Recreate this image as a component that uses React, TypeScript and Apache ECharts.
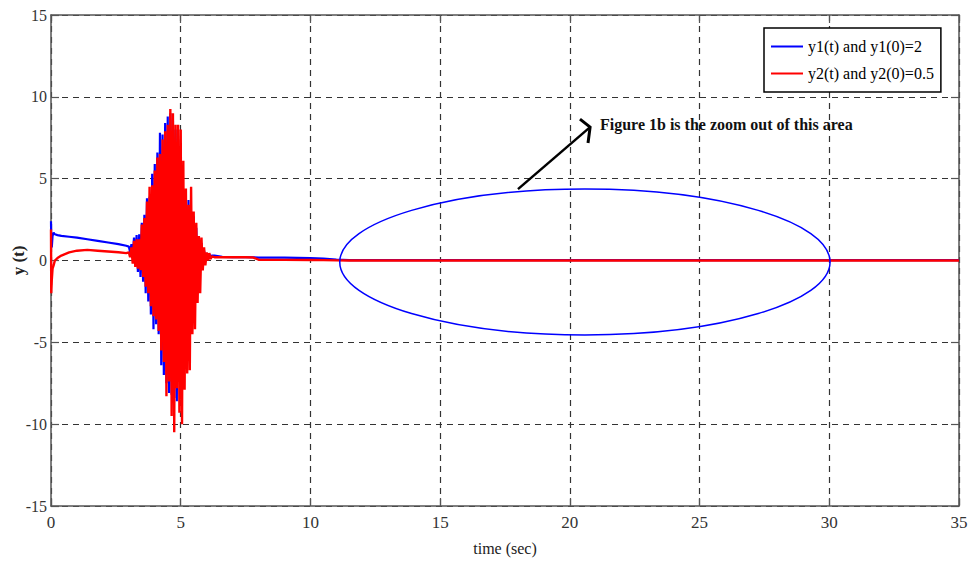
import React, { useEffect, useRef } from "react";
import * as echarts from "echarts";

// ---- data ----
const timeStart = [0, 0.01, 0.03, 0.06, 0.1, 0.15, 0.25, 0.4, 0.7, 1.0, 1.4, 1.8, 2.2, 2.6, 2.9];
const y1Start = [2.4, 1.0, 0.8, 1.5, 1.7, 1.6, 1.55, 1.5, 1.45, 1.4, 1.3, 1.2, 1.1, 1.0, 0.9];
const y2Start = [1.9, -2.0, -1.2, -0.5, -0.3, 0.0, 0.15, 0.3, 0.5, 0.6, 0.65, 0.6, 0.55, 0.5, 0.45];

const timeBurst = [
  3.0, 3.05, 3.1, 3.15, 3.2, 3.25, 3.3, 3.35, 3.4, 3.45, 3.5, 3.55, 3.6, 3.65, 3.7, 3.75,
  3.8, 3.85, 3.9, 3.95, 4.0, 4.05, 4.1, 4.15, 4.2, 4.25, 4.3, 4.35, 4.4, 4.45, 4.5, 4.55,
  4.6, 4.65, 4.7, 4.75, 4.8, 4.85, 4.9, 4.95, 5.0, 5.05, 5.1, 5.15, 5.2, 5.25, 5.3, 5.35,
  5.4, 5.45, 5.5, 5.55, 5.6, 5.65, 5.7, 5.75, 5.8, 5.85, 5.9, 5.95, 6.0, 6.05, 6.1, 6.15, 6.2,
];
const y1Burst = [
  0.85, 0.5, 1.0, 0.2, 1.4, -0.3, 1.55, -0.7, 1.6, -1.0, 2.3, -1.3, 2.8, -2.0, 3.8, -2.5,
  3.9, -3.3, 5.3, -4.2, 5.9, -3.9, 6.6, -4.5, 7.8, -6.4, 7.7, -7.0, 8.4, -7.5, 8.8, -8.1,
  9.0, -8.2, 8.6, -8.4, 8.0, -8.6, 7.4, -7.0, 5.9, -6.0, 4.2, -5.0, 3.7, -4.4, 3.7, -4.2,
  3.0, -3.2, 2.7, -2.0, 2.0, -1.0, 1.4, -0.5, 1.07, -0.2, 0.6, 0.1, 0.45, 0.25, 0.4, 0.25, 0.3,
];
const y2Burst = [
  0.5, 0.2, 0.8, -0.2, 1.2, -0.4, 1.3, -0.5, 1.3, -0.6, 2.2, -1.0, 2.6, -1.6, 3.6, -2.0,
  4.5, -2.8, 4.6, -3.4, 5.5, -3.6, 6.3, -4.3, 6.5, -5.5, 7.4, -6.2, 7.9, -8.3, 8.3, -7.4,
  9.25, -9.5, 9.0, -10.5, 8.3, -7.8, 8.3, -9.3, 8.0, -10.0, 6.1, -7.9, 4.4, -6.9, 3.4, -6.7,
  4.5, -4.5, 3.0, -4.2, 2.3, -2.6, 1.5, -2.0, 1.4, -0.6, 0.8, -0.3, 0.5, 0.0, 0.45, 0.1, 0.25,
];

const timePost = [6.3, 6.6, 7.0, 7.5, 7.8, 8.0, 9.0, 10.0, 10.5, 11.0, 11.5, 35];
const y1Post = [0.3, 0.22, 0.2, 0.2, 0.2, 0.18, 0.17, 0.15, 0.12, 0.05, 0.02, 0.02];
const y2Post = [0.2, 0.2, 0.2, 0.2, 0.18, 0.05, 0.04, 0.03, 0.02, 0.01, 0.0, 0.0];

const seriesNames = ["y1(t) and y1(0)=2", "y2(t) and y2(0)=0.5"];
const xTicks = { min: 0, max: 35, interval: 5 };
const yTicks = { min: -15, max: 15, interval: 5 };

// annotation anchors in data units
const ellipseCenter = [20.58, -0.09];
const ellipseEdge = [30.03, 4.37];
const arrowTail = [18.0, 4.36];
const arrowTip = [20.78, 8.15];
const arrowHeadA = [20.39, 8.64];
const arrowHeadB = [20.7, 7.18];
const noteAnchor = [21.16, 8.28];
const noteText = "Figure 1b is the zoom out of this area";

const FONT = "'Liberation Serif', 'Times New Roman', serif";

function zip(t: number[], v: number[]) {
  return t.map((x, i) => [x, v[i]]);
}

export default function App() {
  const ref = useRef<HTMLDivElement>(null);
  useEffect(() => {
    if (!ref.current) return;
    const chart = echarts.init(ref.current, undefined, { renderer: "svg" });
    const time = [...timeStart, ...timeBurst, ...timePost];
    const y1 = [...y1Start, ...y1Burst, ...y1Post];
    const y2 = [...y2Start, ...y2Burst, ...y2Post];

    const axisLine = { show: true, lineStyle: { color: "#555", width: 1.5 } };
    const tick = { show: true, inside: true, length: 8, lineStyle: { color: "#555", width: 1.2 } };
    const split = { show: true, lineStyle: { color: "#333", width: 1.2, type: [6, 5] as any } };
    const label = { fontFamily: FONT, fontSize: 16, color: "#333" };

    chart.setOption({
      animation: false,
      backgroundColor: "#fff",
      grid: {
        left: 51,
        right: 16,
        top: 15,
        bottom: 58,
        containLabel: false,
        outerBoundsMode: "none",
      },
      legend: {
        data: seriesNames,
        orient: "vertical",
        left: 764,
        top: 28,
        icon: "rect",
        itemWidth: 32,
        itemHeight: 2,
        itemGap: 10,
        padding: [10, 7, 10, 7],
        borderColor: "#000",
        borderWidth: 1.5,
        borderRadius: 0,
        backgroundColor: "#fff",
        textStyle: { fontFamily: FONT, fontSize: 16, color: "#000", lineHeight: 17 },
      },
      xAxis: [
        {
          type: "value",
          ...xTicks,
          axisLine: { ...axisLine, onZero: false },
          axisTick: tick,
          splitLine: split,
          axisLabel: { ...label, fontSize: 17, margin: 8 },
          name: "time (sec)",
          nameLocation: "middle",
          nameGap: 34,
          nameMoveOverlap: false,
          nameTextStyle: { fontFamily: FONT, fontSize: 16, color: "#222" },
        },
        {
          type: "value",
          position: "top",
          ...xTicks,
          axisLine: { ...axisLine, onZero: false },
          axisTick: tick,
          splitLine: { show: false },
          axisLabel: { show: false },
        },
      ],
      yAxis: [
        {
          type: "value",
          ...yTicks,
          axisLine: { ...axisLine, onZero: false },
          axisTick: tick,
          splitLine: split,
          axisLabel: { ...label, margin: 4 },
          name: "y (t)",
          nameLocation: "middle",
          nameGap: 24,
          nameMoveOverlap: false,
          nameRotate: 90,
          nameTextStyle: { fontFamily: FONT, fontSize: 17, fontWeight: "bold", color: "#222" },
        },
        {
          type: "value",
          position: "right",
          ...yTicks,
          axisLine: { ...axisLine, onZero: false },
          axisTick: tick,
          splitLine: { show: false },
          axisLabel: { show: false },
        },
      ],
      series: [
        {
          name: seriesNames[0],
          type: "line",
          data: zip(time, y1),
          symbol: "none",
          lineStyle: { color: "#0000ff", width: 2.2 },
          itemStyle: { color: "#0000ff" },
        },
        {
          name: seriesNames[1],
          type: "line",
          data: zip(time, y2),
          symbol: "none",
          lineStyle: { color: "#ff0000", width: 2.4 },
          itemStyle: { color: "#ff0000" },
        },
      ],
    });

    const px = (p: number[]) => chart.convertToPixel({ xAxisIndex: 0, yAxisIndex: 0 }, p) as number[];
    const c = px(ellipseCenter);
    const e = px(ellipseEdge);
    const tail = px(arrowTail);
    const tip = px(arrowTip);
    const ha = px(arrowHeadA);
    const hb = px(arrowHeadB);
    const n = px(noteAnchor);

    chart.setOption({
      graphic: [
        {
          type: "ellipse",
          shape: { cx: c[0], cy: c[1], rx: e[0] - c[0], ry: c[1] - e[1] },
          style: { fill: "none", stroke: "#0000ff", lineWidth: 1.5 },
          z: 10,
        },
        {
          type: "line",
          shape: { x1: tail[0], y1: tail[1], x2: tip[0], y2: tip[1] },
          style: { stroke: "#000", lineWidth: 2.5 },
          z: 10,
        },
        {
          type: "polyline",
          shape: { points: [ha, tip, hb] },
          style: { stroke: "#000", lineWidth: 3, fill: "none" },
          z: 10,
        },
        {
          type: "text",
          x: n[0],
          y: n[1],
          style: {
            text: noteText,
            fontFamily: FONT,
            fontSize: 16,
            fontWeight: "bold",
            fill: "#111",
            verticalAlign: "middle",
            align: "left",
          },
          z: 10,
        },
      ],
    });

    return () => chart.dispose();
  }, []);
  return (
    <div
      ref={ref}
      style={{ position: "absolute", left: 0, top: 0, width: 975, height: 564, background: "#fff" }}
    />
  );
}
